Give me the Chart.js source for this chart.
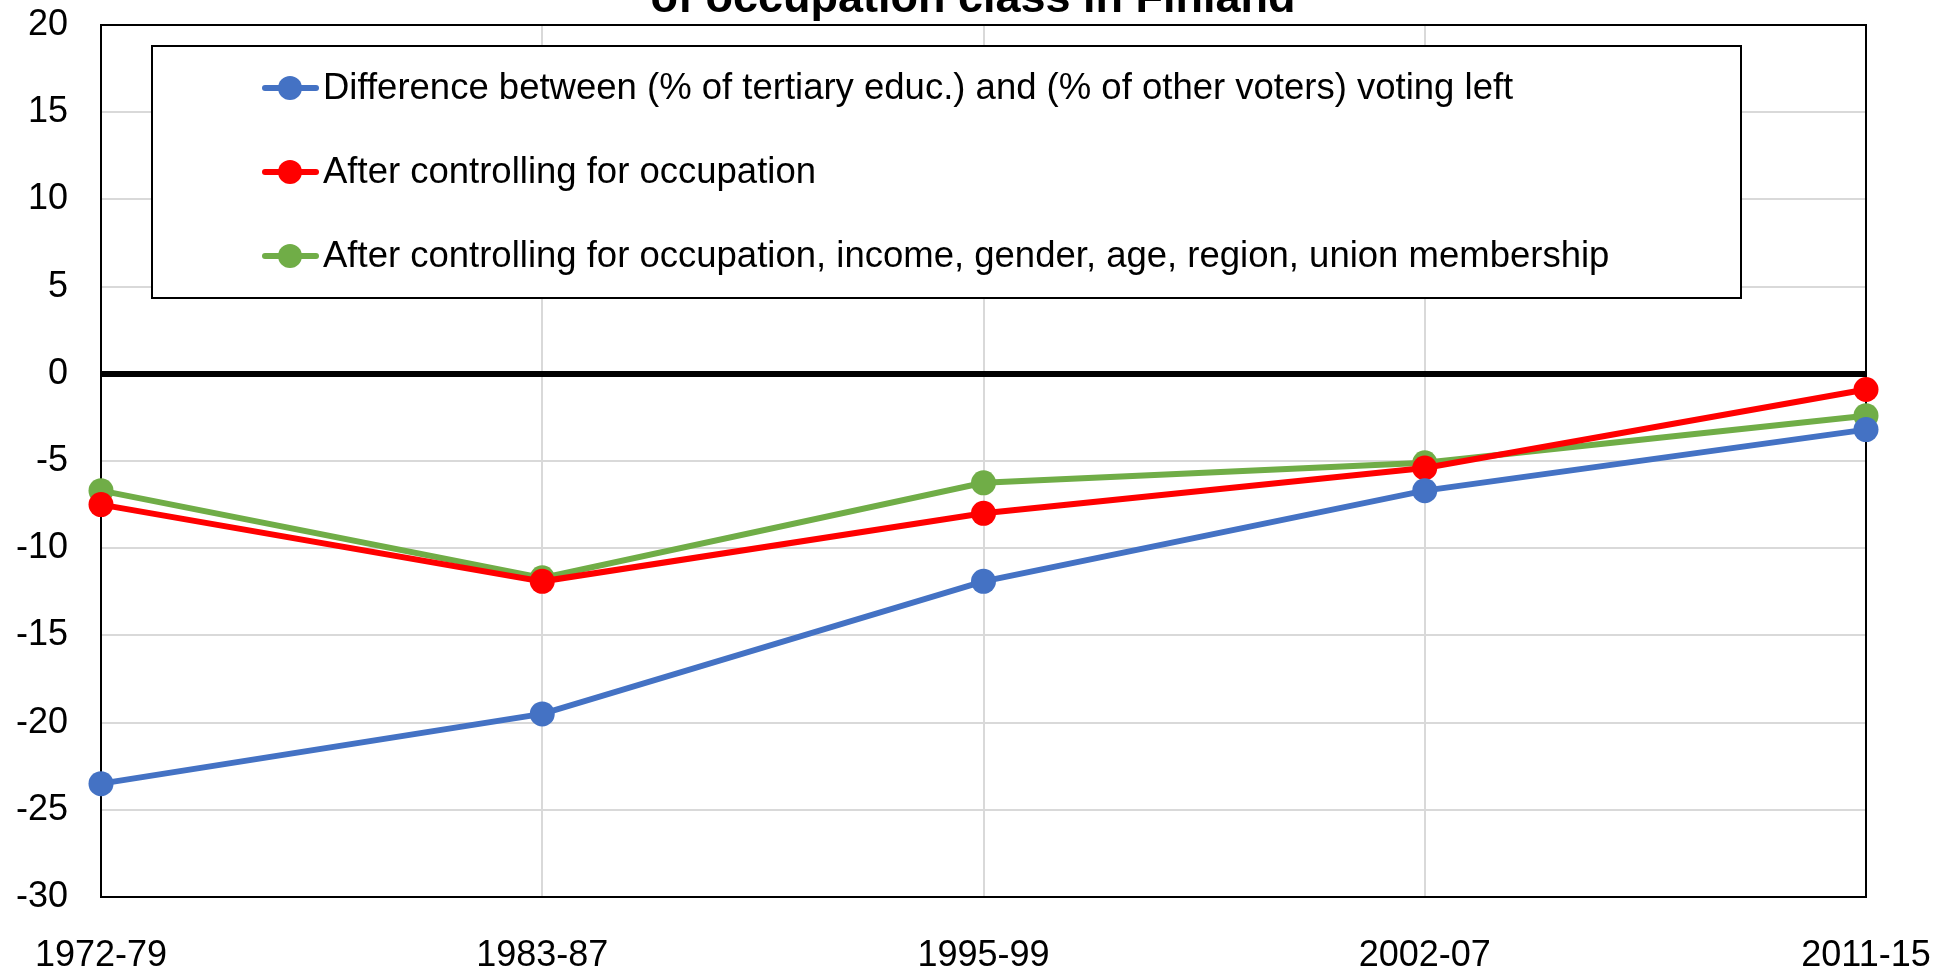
<!DOCTYPE html>
<html>
<head>
<meta charset="utf-8">
<script src="https://cdn.jsdelivr.net/npm/chart.js@4"></script>
<style>
  html, body { margin: 0; padding: 0; background: #fff; }
  #wrap { width: 1957px; height: 969px; }
</style>
</head>
<body>
<div id="wrap"><canvas id="chart" width="1957" height="969"></canvas></div>
<script>
const periods = ['1972-79', '1983-87', '1995-99', '2002-07', '2011-15'];
const rawDiff = [-23.5, -19.5, -11.9, -6.7, -3.2];
const afterOccupation = [-7.5, -11.9, -8.0, -5.4, -0.9];
const afterAllControls = [-6.7, -11.7, -6.25, -5.1, -2.4];
const seriesNames = [
    'Difference between (% of tertiary educ.) and (% of other voters) voting left',
    'After controlling for occupation',
    'After controlling for occupation, income, gender, age, region, union membership'
];
const yTicks = { min: -30, max: 20, step: 5 };
const titleLine = 'of occupation class in Finland';

const FONT = '"Liberation Sans", Arial, sans-serif';

function line(label, data, color) {
    return {
        label,
        data,
        borderColor: color,
        backgroundColor: color,
        borderWidth: 6,
        pointRadius: 12.5,
        pointHoverRadius: 12.5,
        pointBorderWidth: 0,
        tension: 0,
        clip: false
    };
}

// no extra room for the edge labels, the frame is placed by layout.padding
function noEdgePadding(scale) {
    scale.paddingTop = 0;
    scale.paddingBottom = 0;
    scale.paddingLeft = 0;
    scale.paddingRight = 0;
}

// plot frame (top/right) drawn under the lines, legend box + clipped title on top
const frame = {
    id: 'frame',
    beforeDatasetsDraw(chart) {
        const { ctx, chartArea: a } = chart;
        ctx.save();
        ctx.strokeStyle = '#000';
        ctx.lineWidth = 2;
        ctx.strokeRect(a.left, a.top, a.right - a.left, a.bottom - a.top);
        ctx.restore();
    },
    afterDraw(chart) {
        const ctx = chart.ctx;
        ctx.save();

        // title (only the last line is visible in the original)
        ctx.fillStyle = '#000';
        ctx.font = 'bold 45px ' + FONT;
        ctx.textAlign = 'center';
        ctx.textBaseline = 'alphabetic';
        ctx.fillText(titleLine, 973, 12);

        // legend
        const box = { x: 152, y: 46, w: 1589, h: 252 };
        ctx.fillStyle = '#fff';
        ctx.fillRect(box.x, box.y, box.w, box.h);
        ctx.strokeStyle = '#000';
        ctx.lineWidth = 2;
        ctx.strokeRect(box.x, box.y, box.w, box.h);

        chart.data.datasets.forEach((ds, i) => {
            const y = 88 + i * 84;
            ctx.strokeStyle = ds.borderColor;
            ctx.lineWidth = 6;
            ctx.lineCap = 'round';
            ctx.beginPath();
            ctx.moveTo(265, y);
            ctx.lineTo(316, y);
            ctx.stroke();
            ctx.fillStyle = ds.borderColor;
            ctx.beginPath();
            ctx.arc(290, y, 12, 0, Math.PI * 2);
            ctx.fill();
            ctx.fillStyle = '#000';
            ctx.font = '36.5px ' + FONT;
            ctx.textAlign = 'left';
            ctx.textBaseline = 'middle';
            ctx.fillText(ds.label, 323, y + 1);
        });
        ctx.restore();
    }
};

new Chart(document.getElementById('chart'), {
    type: 'line',
    data: {
        labels: periods,
        datasets: [
            line(seriesNames[0], rawDiff, '#4472C4'),
            line(seriesNames[1], afterOccupation, '#FF0000'),
            line(seriesNames[2], afterAllControls, '#70AD47')
        ]
    },
    options: {
        responsive: false,
        animation: false,
        maintainAspectRatio: false,
        layout: { padding: { top: 25, right: 91, bottom: 0, left: 0 } },
        plugins: {
            legend: { display: false },
            tooltip: { enabled: false }
        },
        scales: {
            x: {
                afterFit(scale) { scale.height = 72; noEdgePadding(scale); },
                grid: { color: '#d9d9d9', lineWidth: 2, drawTicks: false },
                border: { display: true, color: '#000', width: 2 },
                ticks: {
                    color: '#000',
                    font: { family: FONT, size: 36 },
                    padding: 37,
                    maxRotation: 0,
                    autoSkip: false
                }
            },
            y: {
                min: yTicks.min,
                max: yTicks.max,
                afterFit(scale) { scale.width = 101; noEdgePadding(scale); },
                grid: {
                    color: (c) => c.tick && c.tick.value === 0 ? '#000' : '#d9d9d9',
                    lineWidth: (c) => c.tick && c.tick.value === 0 ? 6 : 2,
                    drawTicks: false
                },
                border: { display: true, color: '#000', width: 2 },
                ticks: {
                    stepSize: yTicks.step,
                    color: '#000',
                    font: { family: FONT, size: 36 },
                    padding: 33
                }
            }
        }
    },
    plugins: [frame]
});
</script>
</body>
</html>
